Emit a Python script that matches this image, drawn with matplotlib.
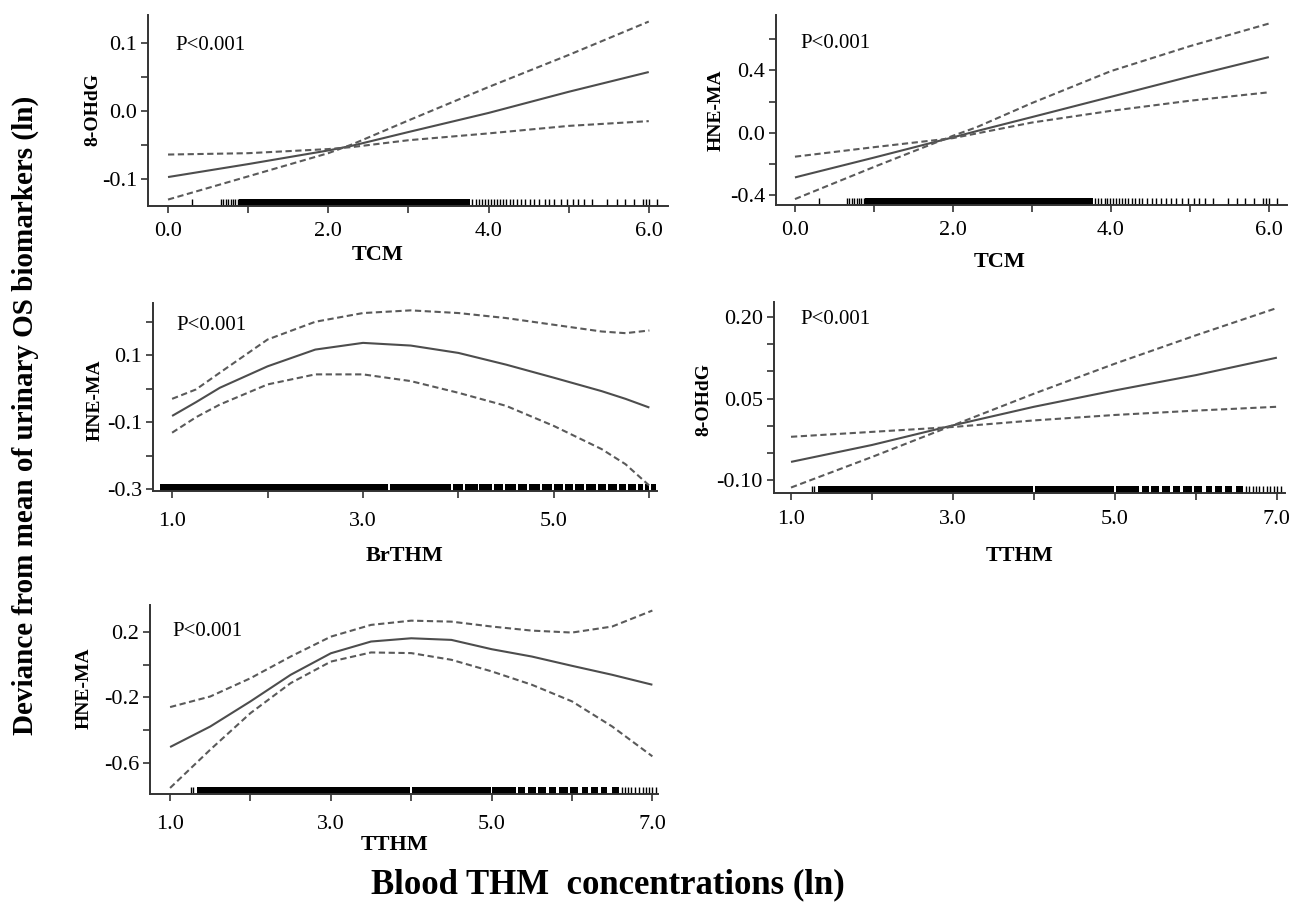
import matplotlib
matplotlib.use("Agg")
import matplotlib.pyplot as plt
from matplotlib.ticker import FixedLocator, FixedFormatter

plt.rcParams['font.family'] = ['Liberation Serif', 'DejaVu Serif']

# ---------------- data ----------------
# Panel 1: TCM vs 8-OHdG
x1 = [0, 1, 2, 2.3, 3, 4, 5, 6]
fit1 = [-0.097, -0.078, -0.058, -0.051, -0.031, -0.003, 0.028, 0.057]
ciA1 = [-0.064, -0.062, -0.056, -0.053, -0.043, -0.033, -0.022, -0.015]
ciB1 = [-0.130, -0.096, -0.062, -0.049, -0.014, 0.035, 0.082, 0.131]

# Panel 2: TCM vs HNE-MA
x2 = [0, 1, 2, 2.3, 3, 4, 5, 6]
fit2 = [-0.287, -0.160, -0.030, 0.010, 0.100, 0.230, 0.360, 0.485]
ciA2 = [-0.154, -0.093, -0.035, -0.005, 0.065, 0.140, 0.205, 0.259]
ciB2 = [-0.426, -0.220, -0.020, 0.035, 0.190, 0.395, 0.555, 0.700]

# Panel 3: BrTHM vs HNE-MA
x3 = [1, 1.25, 1.5, 2, 2.5, 3, 3.5, 4, 4.5, 5, 5.5, 5.75, 6]
fit3 = [-0.081, -0.040, 0.003, 0.067, 0.117, 0.137, 0.129, 0.107, 0.072, 0.033, -0.007, -0.030, -0.056]
ciA3 = [-0.030, -0.002, 0.048, 0.147, 0.200, 0.226, 0.234, 0.226, 0.211, 0.191, 0.171, 0.166, 0.174]
ciB3 = [-0.131, -0.085, -0.047, 0.013, 0.043, 0.043, 0.023, -0.012, -0.051, -0.111, -0.180, -0.225, -0.289]

# Panel 4: TTHM vs 8-OHdG
x4 = [1, 2, 3, 4, 5, 6, 7]
fit4 = [-0.066, -0.035, 0.001, 0.035, 0.065, 0.093, 0.125]
ciA4 = [-0.020, -0.011, -0.002, 0.010, 0.020, 0.028, 0.035]
ciB4 = [-0.113, -0.057, 0.001, 0.059, 0.114, 0.166, 0.216]

# Panel 5: TTHM vs HNE-MA
x5 = [1, 1.5, 2, 2.5, 3, 3.5, 4, 4.5, 5, 5.5, 6, 6.5, 7]
fit5 = [-0.504, -0.378, -0.224, -0.061, 0.071, 0.143, 0.163, 0.153, 0.096, 0.051, -0.006, -0.061, -0.122]
ciA5 = [-0.259, -0.194, -0.082, 0.051, 0.173, 0.245, 0.271, 0.265, 0.235, 0.210, 0.198, 0.235, 0.333]
ciB5 = [-0.755, -0.520, -0.296, -0.112, 0.020, 0.076, 0.072, 0.031, -0.040, -0.122, -0.224, -0.378, -0.561]

# Rug plots (observations): dense blocks and individual ticks
tcm_rug_blocks = [(0.89, 3.77)]
tcm_rug_ticks = [0.30, 0.66, 0.69, 0.72, 0.75, 0.78, 0.81, 0.84, 0.87,
                 3.80, 3.84, 3.88, 3.92, 3.95, 3.99, 4.03, 4.07, 4.10, 4.14, 4.18,
                 4.22, 4.27, 4.31, 4.36, 4.40, 4.46, 4.52, 4.57, 4.63, 4.70, 4.76,
                 4.82, 4.90, 4.98, 5.05, 5.12, 5.19, 5.29, 5.48, 5.60, 5.70, 5.81,
                 5.93, 5.96, 6.00, 6.10]
brthm_rug_blocks = [(0.87, 3.26), (3.28, 3.92), (3.94, 4.05), (4.07, 4.20), (4.22, 4.35),
                    (4.37, 4.47), (4.49, 4.60), (4.62, 4.72), (4.74, 4.85), (4.87, 4.98),
                    (5.00, 5.10), (5.12, 5.20), (5.22, 5.32), (5.34, 5.44), (5.46, 5.55),
                    (5.57, 5.66), (5.68, 5.76), (5.78, 5.86), (5.88, 5.93), (5.95, 6.00),
                    (6.02, 6.07)]
brthm_rug_ticks = []
tthm_rug_blocks = [(1.33, 3.99), (4.01, 4.99), (5.01, 5.30), (5.33, 5.42), (5.45, 5.55),
                   (5.58, 5.68), (5.72, 5.80), (5.84, 5.95), (5.98, 6.08), (6.12, 6.20),
                   (6.24, 6.32), (6.36, 6.44), (6.50, 6.58)]
tthm_rug_ticks = [1.26, 1.29, 6.62, 6.66, 6.70, 6.74, 6.78, 6.83, 6.88, 6.92, 6.96, 7.00, 7.05]

panels = [
    dict(x=x1, fit=fit1, a=ciA1, b=ciB1, xlim=(-0.25, 6.24), ylim=(-0.139, 0.1406),
         yt=[-0.1, -0.05, 0.0, 0.05, 0.1], ylab=['-0.1', '', '0.0', '', '0.1'],
         xt=[0, 1, 2, 3, 4, 5, 6], xlab=['0.0', '', '2.0', '', '4.0', '', '6.0'],
         rect=(148, 15, 668, 205.7), xpad=7,
         rug=(tcm_rug_blocks, tcm_rug_ticks),
         ylabel='8-OHdG', ylpos=(93, 110), xlabel='TCM', xlpos=(378, 255), ptxt=(175, 45)),
    dict(x=x2, fit=fit2, a=ciA2, b=ciB2, xlim=(-0.24, 6.23), ylim=(-0.464, 0.755),
         yt=[-0.4, -0.2, 0.0, 0.2, 0.4, 0.6], ylab=['-0.4', '', '0.0', '', '0.4', ''],
         xt=[0, 1, 2, 3, 4, 5, 6], xlab=['0.0', '', '2.0', '', '4.0', '', '6.0'],
         rect=(776, 15, 1287, 205), xpad=6.5,
         rug=(tcm_rug_blocks, tcm_rug_ticks),
         ylabel='HNE-MA', ylpos=(716, 110), xlabel='TCM', xlpos=(1000, 262), ptxt=(800, 44)),
    dict(x=x3, fit=fit3, a=ciA3, b=ciB3, xlim=(0.80, 6.08), ylim=(-0.305, 0.256),
         yt=[-0.3, -0.2, -0.1, 0.0, 0.1, 0.2], ylab=['-0.3', '', '-0.1', '', '0.1', ''],
         xt=[1, 2, 3, 4, 5, 6], xlab=['1.0', '', '3.0', '', '5.0', ''],
         rect=(153, 303, 657, 491), xpad=10,
         rug=(brthm_rug_blocks, brthm_rug_ticks),
         ylabel='HNE-MA', ylpos=(95, 400), xlabel='BrTHM', xlpos=(405, 556), ptxt=(176, 325)),
    dict(x=x4, fit=fit4, a=ciA4, b=ciB4, xlim=(0.79, 7.10), ylim=(-0.123, 0.227),
         yt=[-0.10, -0.05, 0.0, 0.05, 0.10, 0.15, 0.20], ylab=['-0.10', '', '', '0.05', '', '', '0.20'],
         xt=[1, 2, 3, 4, 5, 6, 7], xlab=['1.0', '', '3.0', '', '5.0', '', '7.0'],
         rect=(774, 302, 1285, 493), xpad=7.5,
         rug=(tthm_rug_blocks, tthm_rug_ticks),
         ylabel='8-OHdG', ylpos=(704, 400), xlabel='TTHM', xlpos=(1020, 556), ptxt=(800, 320)),
    dict(x=x5, fit=fit5, a=ciA5, b=ciB5, xlim=(0.75, 7.07), ylim=(-0.792, 0.367),
         yt=[-0.6, -0.4, -0.2, 0.0, 0.2], ylab=['-0.6', '', '-0.2', '', '0.2'],
         xt=[1, 2, 3, 4, 5, 6, 7], xlab=['1.0', '', '3.0', '', '5.0', '', '7.0'],
         rect=(150, 605, 658, 794), xpad=10,
         rug=(tthm_rug_blocks, tthm_rug_ticks),
         ylabel='HNE-MA', ylpos=(84, 688), xlabel='TTHM', xlpos=(395, 845), ptxt=(172, 632)),
]

W, H = 1293, 909
fig = plt.figure(figsize=(W / 100, H / 100), dpi=100)

axis_col = '#333333'
fit_col = '#4d4d4d'
ci_col = '#5a5a5a'
rug_h = 7.0  # px

for p in panels:
    x0, y0, x1p, y1p = p['rect']
    ax = fig.add_axes([x0 / W, 1 - y1p / H, (x1p - x0) / W, (y1p - y0) / H])
    ax.set_xlim(*p['xlim'])
    ax.set_ylim(*p['ylim'])
    for s in ['top', 'right']:
        ax.spines[s].set_visible(False)
    for s in ['left', 'bottom']:
        ax.spines[s].set_color(axis_col)
        ax.spines[s].set_linewidth(1.4)
    ax.plot(p['x'], p['fit'], color=fit_col, lw=1.5, solid_capstyle='butt')
    ax.plot(p['x'], p['a'], color=ci_col, lw=1.5, dashes=(3, 1.7))
    ax.plot(p['x'], p['b'], color=ci_col, lw=1.5, dashes=(3, 1.7))

    frac = rug_h / (y1p - y0)
    trans = ax.get_xaxis_transform()
    blocks, ticks = p['rug']
    for (a, b) in blocks:
        ax.axvspan(a, b, ymin=0, ymax=frac, color='black', lw=0)
    if ticks:
        ax.vlines(ticks, 0, frac, transform=trans, color='black', lw=1.0)

    ax.yaxis.set_major_locator(FixedLocator(p['yt']))
    ax.yaxis.set_major_formatter(FixedFormatter(p['ylab']))
    ax.xaxis.set_major_locator(FixedLocator(p['xt']))
    ax.xaxis.set_major_formatter(FixedFormatter(p['xlab']))
    ax.tick_params(axis='both', direction='out', length=5, width=1.2, color=axis_col,
                   labelsize=16, labelcolor='black')
    ax.tick_params(axis='y', pad=3)
    ax.tick_params(axis='x', pad=p['xpad'])

    fig.text(p['ylpos'][0] / W, 1 - p['ylpos'][1] / H, p['ylabel'], rotation=90,
             ha='center', va='center', fontsize=14, fontweight='bold')
    fig.text(p['xlpos'][0] / W, 1 - p['xlpos'][1] / H, p['xlabel'],
             ha='center', va='center', fontsize=16, fontweight='bold')
    fig.text(p['ptxt'][0] / W, 1 - p['ptxt'][1] / H, 'P<0.001',
             ha='left', va='center', fontsize=15)

fig.text(25 / W, 1 - 415 / H, 'Deviance from mean of urinary OS biomarkers (ln)', rotation=90,
         ha='center', va='center', fontsize=21, fontweight='bold')
fig.text(608 / W, 1 - 885 / H, 'Blood THM  concentrations (ln)',
         ha='center', va='center', fontsize=25, fontweight='bold')

fig.savefig('out.png', dpi=100)
